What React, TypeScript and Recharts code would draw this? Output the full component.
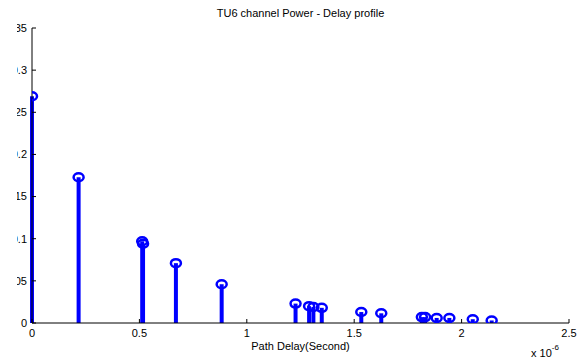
import React from "react";
import { ComposedChart, Scatter, XAxis, YAxis, ReferenceLine, Label } from "recharts";

// path delays in microseconds (axis shows x 10^-6 s), relative power
const delays = [0, 0.217, 0.513, 0.517, 0.67, 0.883, 1.227, 1.29, 1.31, 1.349, 1.533, 1.626, 1.815, 1.83, 1.884, 1.943, 2.052, 2.14];
const powers = [0.269, 0.173, 0.097, 0.094, 0.071, 0.046, 0.023, 0.02, 0.019, 0.018, 0.013, 0.0115, 0.007, 0.007, 0.006, 0.006, 0.0045, 0.003];
const xTicks = [0, 0.5, 1, 1.5, 2, 2.5];
const yTicks = [0, 0.05, 0.1, 0.15, 0.2, 0.25, 0.3, 0.35];

const title = "TU6 channel Power - Delay profile";
const xLabel = "Path Delay(Second)";

const data = delays.map((d, i) => ({ x: d, y: powers[i] }));

const BLUE = "#0000ff";
const FONT = "'Liberation Sans', Arial, Helvetica, sans-serif";
const tickStyle = { fontSize: 11, fill: "#000", fontFamily: FONT };

const Marker = (props: any) => (
  <ellipse cx={props.cx} cy={props.cy} rx={5} ry={4} fill="none" stroke={BLUE} strokeWidth={2.5} />
);

export default function App() {
  return (
    <div style={{ position: "absolute", left: 0, top: 0, width: 584, height: 359, background: "#fff", fontFamily: FONT }}>
      <div style={{ position: "absolute", left: 32, top: 7, width: 537, textAlign: "center", fontSize: 11, lineHeight: "13px", color: "#000" }}>
        {title}
      </div>
      {/* the source image is cropped on the left, so the y labels lose their leading "0" */}
      <div style={{ position: "absolute", left: 17, top: 0, width: 567, height: 359, overflow: "hidden" }}>
        <ComposedChart width={567} height={359} data={data} margin={{ top: 28, right: 15, bottom: 0, left: 0 }}>
          <XAxis
            xAxisId="b"
            dataKey="x"
            type="number"
            domain={[0, 2.5]}
            ticks={xTicks}
            tickFormatter={(v: number) => String(v)}
            height={36}
            stroke="#000"
            tickSize={-4}
            tickMargin={10}
            tick={tickStyle}
            interval={0}
            allowDataOverflow
          >
            <Label value={xLabel} position="insideBottom" offset={9} style={{ fontSize: 11, fill: "#000", fontFamily: FONT }} />
          </XAxis>
          <XAxis
            xAxisId="t"
            orientation="top"
            type="number"
            domain={[0, 2.5]}
            ticks={xTicks}
            height={0}
            stroke="#000"
            tickSize={-4}
            tick={false}
            interval={0}
          />
          <YAxis
            yAxisId="l"
            type="number"
            domain={[0, 0.35]}
            ticks={yTicks}
            tickFormatter={(v: number) => String(v)}
            width={15}
            stroke="#000"
            tickSize={-4}
            tickMargin={9}
            tick={tickStyle}
            interval={0}
            allowDataOverflow
          />
          <YAxis
            yAxisId="r"
            orientation="right"
            type="number"
            domain={[0, 0.35]}
            ticks={yTicks}
            width={0}
            stroke="#000"
            tickSize={-4}
            tick={false}
            interval={0}
          />
          {data.map((p, i) => (
            <ReferenceLine
              key={i}
              xAxisId="b"
              yAxisId="l"
              segment={[{ x: p.x, y: 0 }, { x: p.x, y: p.y }]}
              stroke={BLUE}
              strokeWidth={4}
            />
          ))}
          <Scatter xAxisId="b" yAxisId="l" dataKey="y" fill={BLUE} shape={Marker} isAnimationActive={false} />
        </ComposedChart>
      </div>
      <div style={{ position: "absolute", left: 531, top: 345, fontSize: 11, color: "#000", whiteSpace: "nowrap" }}>
        x 10<sup style={{ fontSize: 8, position: "relative", top: -2 }}>-6</sup>
      </div>
    </div>
  );
}
